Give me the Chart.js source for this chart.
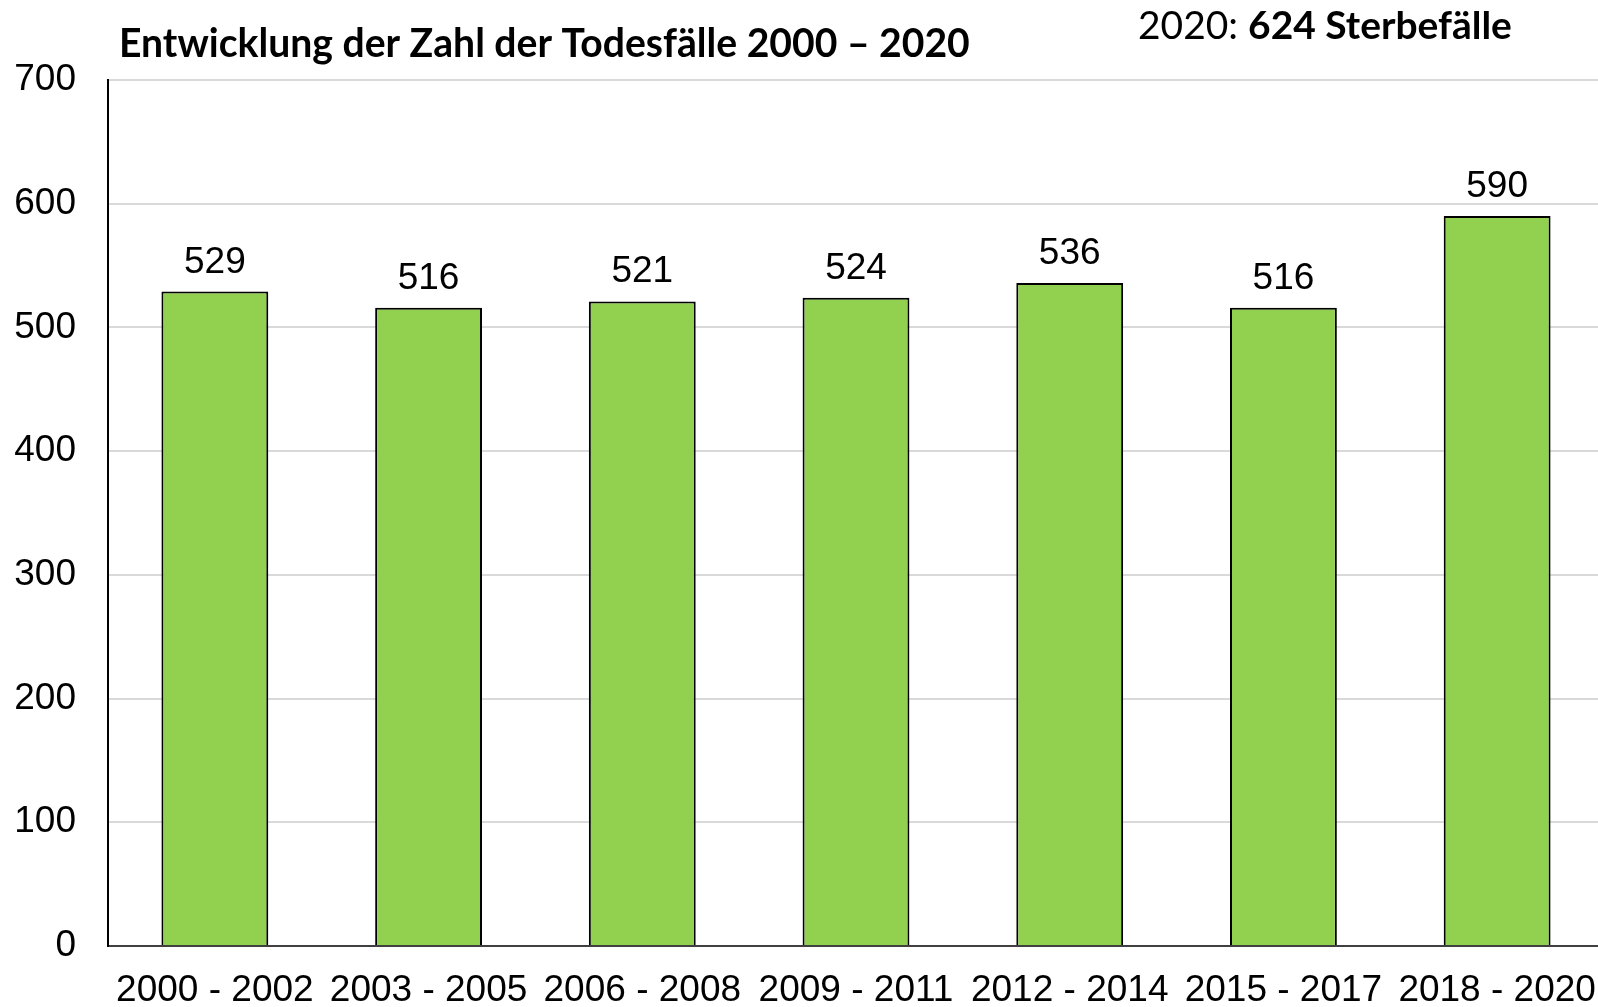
<!DOCTYPE html>
<html>
<head>
<meta charset="utf-8">
<script src="https://cdn.jsdelivr.net/npm/chart.js@4.4.0/dist/chart.umd.min.js"></script>
<style>
  html, body { margin: 0; padding: 0; background: #fff; overflow: hidden; }
  /* etwas breiter als das Fenster: die Zeichenfläche läuft rechts wie in der Vorlage über den Rand */
  #wrap { width: 1604px; height: 1007px; position: relative; }
</style>
</head>
<body>
<div id="wrap"><canvas id="chart"></canvas></div>
<script>
// Daten aus der Vorlage
const periods = ['2000 - 2002', '2003 - 2005', '2006 - 2008', '2009 - 2011', '2012 - 2014', '2015 - 2017', '2018 - 2020'];
const deaths = [529, 516, 521, 524, 536, 516, 590];
const titleText = 'Entwicklung der Zahl der Todesfälle 2000 – 2020';
const noteYear = '2020: ';
const noteValue = '624 Sterbefälle';

// Schriftgröße so wählen, dass der Text eine bestimmte Breite füllt
const fitFont = (ctx, text, weight, family, width) => {
    ctx.font = `${weight} 100px ${family}`;
    return 100 * width / ctx.measureText(text).width;
};

// Titel und Hinweis oben rechts
const headerPlugin = {
    id: 'header',
    afterDraw(chart) {
        const ctx = chart.ctx;
        ctx.save();
        ctx.fillStyle = '#000';
        ctx.textBaseline = 'middle';
        ctx.textAlign = 'left';
        const tSize = fitFont(ctx, titleText, 'bold', 'Lato', 851);
        ctx.font = `bold ${tSize}px Lato`;
        ctx.fillText(titleText, 119, 44);

        // "2020: " normal, Rest fett
        ctx.font = 'normal 100px Lato';
        const w1 = ctx.measureText(noteYear).width;
        ctx.font = 'bold 100px Lato';
        const w2 = ctx.measureText(noteValue).width;
        const nSize = 100 * 374 / (w1 + w2);
        ctx.font = `normal ${nSize}px Lato`;
        ctx.fillText(noteYear, 1138, 26);
        ctx.font = `bold ${nSize}px Lato`;
        ctx.fillText(noteValue, 1138 + w1 * nSize / 100, 26);
        ctx.restore();
    }
};

// Werte über den Balken
const valueLabels = {
    id: 'valueLabels',
    afterDatasetsDraw(chart) {
        const ctx = chart.ctx;
        ctx.save();
        ctx.font = '37px "Liberation Sans", Arial, sans-serif';
        ctx.fillStyle = '#000';
        ctx.textAlign = 'center';
        ctx.textBaseline = 'alphabetic';
        chart.getDatasetMeta(0).data.forEach((bar, i) => {
            ctx.fillText(String(deaths[i]), bar.x, bar.y - 19);
        });
        ctx.restore();
    }
};

const ctx = document.getElementById('chart').getContext('2d');
new Chart(ctx, {
    type: 'bar',
    data: {
        labels: periods,
        datasets: [{
            data: deaths,
            backgroundColor: '#92d050',
            borderColor: '#000',
            borderWidth: 2,
            borderSkipped: 'bottom',
            categoryPercentage: 0.5,
            barPercentage: 1
        }]
    },
    options: {
        responsive: true,
        maintainAspectRatio: false,
        animation: false,
        layout: { padding: { top: 80, left: 14, right: 0, bottom: 0 } },
        plugins: {
            legend: { display: false },
            tooltip: { enabled: false }
        },
        scales: {
            x: {
                grid: { display: false, drawTicks: false },
                border: { color: '#404040', width: 2 },
                ticks: {
                    color: '#000',
                    font: { family: '"Liberation Sans", Arial, sans-serif', size: 37, lineHeight: 1 },
                    padding: 26,
                    maxRotation: 0,
                    autoSkip: false
                },
                afterFit(scale) {
                    scale.height = 61;
                    scale.paddingLeft = 0;
                    scale.paddingRight = 0;
                }
            },
            y: {
                min: 0,
                max: 700,
                grid: { color: '#d9d9d9', lineWidth: 2, drawTicks: false },
                border: { color: '#000', width: 2 },
                ticks: {
                    stepSize: 100,
                    color: '#000',
                    font: { family: '"Liberation Sans", Arial, sans-serif', size: 37 },
                    padding: 32
                },
                afterFit(scale) {
                    scale.width = 94;
                    scale.paddingTop = 0;
                    scale.paddingBottom = 0;
                }
            }
        }
    },
    plugins: [headerPlugin, valueLabels]
});
</script>
</body>
</html>
